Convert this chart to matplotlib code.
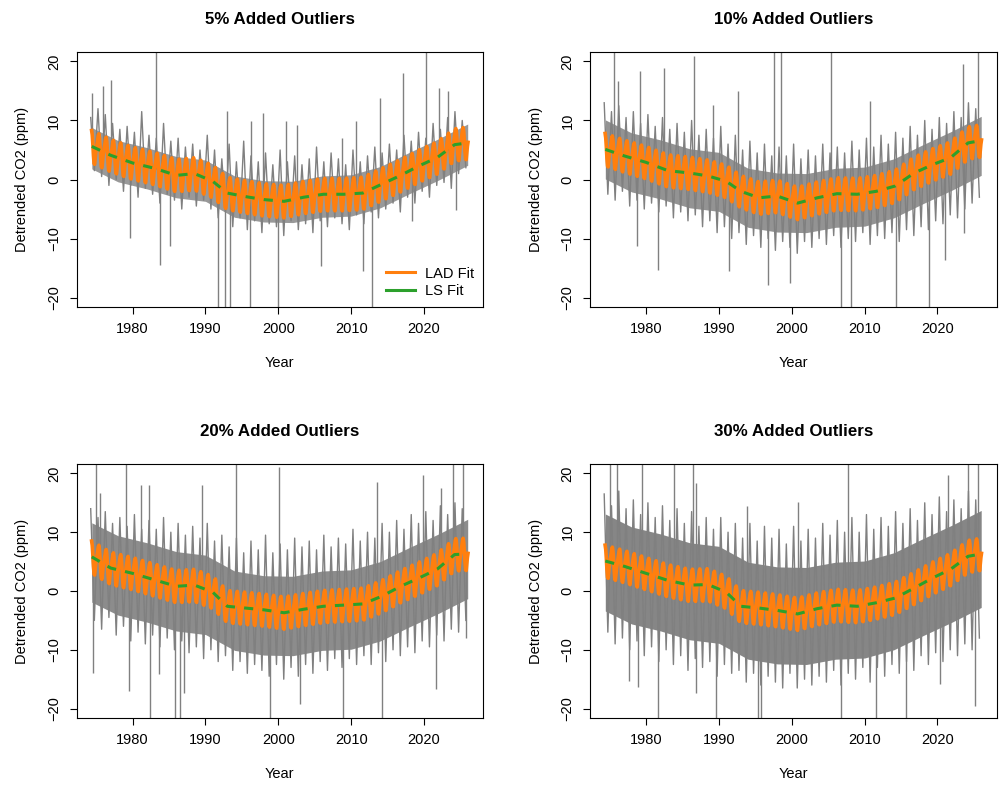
import numpy as np
import matplotlib.pyplot as plt

plt.rcParams['font.family'] = ['Liberation Sans', 'DejaVu Sans']

titles = ["5% Added Outliers", "10% Added Outliers",
          "20% Added Outliers", "30% Added Outliers"]

# LS fit (green dashed trend) at these years
knot_years = [1974.4, 1977, 1980, 1983, 1986, 1988.5, 1991, 1993, 1995.5, 1998,
              2000.8, 2003.5, 2006.2, 2009, 2011.6, 2014.2, 2016.8, 2019.3,
              2021.8, 2024.2, 2026.0]
trend_5 = [5.6, 4.1, 2.8, 1.9, 0.7, 1.0, -0.3, -2.3, -2.9, -3.4, -3.7, -3.0,
           -2.5, -2.5, -2.3, -0.8, 0.7, 2.3, 3.7, 5.9, 6.2]
trend_10 = [5.1, 4.0, 2.9, 1.5, 1.1, 0.6, -0.3, -2.0, -3.1, -2.8, -4.0, -3.1,
            -2.4, -2.5, -2.0, -1.1, 1.1, 2.5, 3.7, 6.2, 6.6]
trend_20 = [5.8, 3.9, 3.0, 1.9, 0.8, 1.0, -0.2, -2.6, -2.9, -3.2, -3.7, -3.1,
            -2.6, -2.4, -2.2, -0.9, 0.8, 2.2, 3.7, 6.2, 6.3]
trend_30 = [5.1, 4.2, 3.0, 1.8, 1.0, 1.1, -0.2, -2.6, -2.9, -3.3, -3.9, -3.0,
            -2.4, -2.6, -2.0, -1.2, 0.5, 2.2, 3.7, 5.9, 6.3]

# seasonal part of the LAD fit (Jan..Dec), ppm
seasonal = [0.1, 0.8, 1.6, 2.4, 2.7, 2.0, 0.5, -1.4, -2.7, -2.8, -1.7, -0.6]

# monthly record: May 1974 .. Jan 2026
start_year, start_month, n_months = 1974, 5, 621

# solid core of the noisy series (gray), upper / lower edge
band_years = [1974.4, 1978, 1982, 1986, 1990, 1994, 1998, 2002, 2006, 2010,
              2014, 2018, 2022, 2026]
upper_5 = [8.8, 6.6, 5.4, 3.9, 3.3, 0.6, -0.2, -0.3, 0.6, 0.8, 2.2, 4.6, 6.9, 9.4]
lower_5 = [1.8, -0.4, -1.6, -3.1, -3.7, -6.4, -7.2, -7.3, -6.4, -6.2, -4.8, -2.4, -0.1, 2.4]
upper_10 = [10.1, 7.9, 6.7, 5.2, 4.6, 1.9, 1.1, 1.0, 1.9, 2.1, 3.5, 5.9, 8.2, 10.7]
lower_10 = [0.1, -2.1, -3.3, -4.8, -5.4, -8.1, -8.9, -9.0, -8.1, -7.9, -6.5, -4.1, -1.8, 0.7]
upper_20 = [11.6, 9.4, 8.2, 6.7, 6.1, 3.4, 2.6, 2.5, 3.4, 3.6, 5.0, 7.4, 9.7, 12.2]
lower_20 = [-1.9, -4.1, -5.3, -6.8, -7.4, -10.1, -10.9, -11.0, -10.1, -9.9, -8.5, -6.1, -3.8, -1.3]
upper_30 = [13.1, 10.9, 9.7, 8.2, 7.6, 4.9, 4.1, 4.0, 4.9, 5.1, 6.5, 8.9, 11.2, 13.7]
lower_30 = [-3.4, -5.6, -6.8, -8.3, -8.9, -11.6, -12.4, -12.5, -11.6, -11.4, -10.0, -7.6, -5.3, -2.8]

# yearly highs / lows of the gray series, 1974.5 .. 2025.5
year_mid = [1974.5 + k for k in range(52)]
high_5 = [10.5, 12.0, 11.0, 9.5, 8.5, 9.0, 8.0, 11.5, 7.5, 7.0,
          9.5, 6.5, 7.0, 5.5, 6.0, 5.0, 7.5, 5.0, 3.5, 6.0,
          3.0, 6.5, 4.0, 3.0, 4.5, 2.5, 5.0, 3.0, 4.0, 2.5,
          3.5, 5.5, 3.0, 4.5, 3.5, 2.5, 5.0, 3.0, 4.0, 5.5,
          4.5, 6.0, 5.0, 7.5, 6.5, 8.0, 7.0, 9.5, 8.5, 10.5,
          11.5, 10.0]
low_5 = [1.5, 0.5, -1.0, 0.0, -2.0, -1.0, -3.0, -1.5, -2.5, -4.0,
         -2.5, -3.5, -5.0, -3.0, -4.5, -3.5, -5.0, -6.5, -5.5, -8.0,
         -6.5, -8.5, -7.0, -9.0, -7.5, -8.0, -9.5, -7.0, -8.5, -7.5,
         -9.0, -7.0, -8.0, -6.5, -7.5, -8.5, -6.0, -7.5, -5.5, -6.5,
         -5.0, -4.0, -5.5, -3.0, -4.0, -2.0, -3.0, -1.0, -0.5, -1.5,
         1.0, 2.0]
high_10 = [13.0, 11.5, 12.5, 10.5, 11.5, 9.5, 11.0, 9.0, 10.5, 8.5,
           9.5, 8.0, 10.0, 7.5, 8.5, 7.0, 9.0, 6.0, 7.5, 5.0,
           6.5, 4.5, 6.0, 4.0, 5.5, 4.0, 6.0, 3.5, 5.0, 4.0,
           6.0, 4.5, 5.5, 4.5, 6.5, 5.0, 7.0, 5.5, 7.5, 6.0,
           8.0, 7.0, 9.0, 7.5, 10.0, 8.5, 10.5, 9.5, 11.5, 10.5,
           13.0, 12.0]
low_10 = [-2.5, -3.5, -2.0, -4.5, -3.5, -5.0, -4.0, -5.5, -4.5, -6.5,
          -5.5, -7.0, -6.0, -8.0, -7.0, -9.0, -8.0, -10.0, -9.0, -11.0,
          -9.5, -11.5, -10.0, -12.0, -10.5, -11.5, -12.5, -10.5, -11.5, -10.0,
          -11.0, -9.5, -11.5, -10.0, -10.5, -9.0, -11.0, -9.5, -10.0, -9.0,
          -10.5, -8.5, -9.5, -8.0, -8.5, -7.0, -7.5, -6.0, -6.5, -5.0,
          -4.0, -3.0]
high_20 = [14.0, 12.5, 13.5, 11.5, 12.5, 11.0, 13.0, 10.5, 12.0, 10.5,
           12.5, 10.0, 11.5, 9.5, 11.0, 9.0, 11.5, 8.5, 9.5, 7.5,
           9.0, 6.5, 8.5, 7.0, 9.5, 6.5, 8.0, 7.0, 9.0, 7.5,
           8.5, 7.0, 9.5, 7.5, 9.0, 8.0, 10.5, 8.5, 10.0, 9.0,
           11.5, 10.0, 12.0, 10.5, 13.0, 11.5, 13.5, 12.0, 14.5, 13.0,
           15.0, 14.0]
low_20 = [-5.0, -6.5, -4.5, -7.5, -6.0, -8.5, -7.0, -9.0, -7.5, -9.5,
          -8.0, -10.0, -8.5, -10.5, -9.5, -11.5, -10.0, -12.0, -11.0, -13.5,
          -12.0, -14.0, -12.5, -13.5, -14.5, -12.5, -15.0, -13.0, -14.5, -12.5,
          -14.0, -12.0, -13.5, -11.5, -13.0, -11.5, -12.5, -11.0, -12.5, -10.5,
          -12.0, -10.0, -11.0, -9.5, -10.5, -8.5, -9.5, -7.5, -8.5, -6.5,
          -7.0, -5.0]
high_30 = [16.5, 14.5, 17.0, 14.0, 15.5, 13.0, 15.0, 12.5, 14.5, 12.0,
           14.0, 11.5, 13.5, 11.0, 12.5, 10.5, 12.5, 10.0, 11.5, 9.0,
           11.5, 8.5, 11.0, 9.0, 10.5, 8.0, 11.0, 8.5, 10.5, 9.0,
           11.5, 9.5, 12.0, 10.0, 12.5, 10.0, 13.0, 10.5, 12.5, 11.0,
           13.5, 11.5, 14.0, 12.0, 15.0, 13.0, 16.0, 13.5, 15.5, 14.0,
           17.0, 15.5]
low_30 = [-7.0, -9.0, -8.0, -10.0, -8.5, -11.0, -9.5, -12.0, -10.0, -12.5,
          -11.0, -13.5, -11.5, -13.0, -12.0, -14.5, -12.5, -14.0, -13.5, -15.5,
          -14.0, -16.0, -14.5, -15.5, -16.5, -14.0, -16.5, -15.0, -16.0, -14.5,
          -15.5, -13.5, -16.0, -14.0, -15.0, -13.0, -15.5, -13.0, -14.5, -12.5,
          -14.0, -12.0, -13.5, -11.0, -12.5, -10.5, -12.0, -10.0, -11.0, -9.0,
          -10.0, -8.0]

# single outlier spikes (year, value); +-25 means off the plot
spike_years_5 = [1983.2, 2020.3, 1977.0, 1976.0, 1974.4, 1983.7, 1979.7, 1985.2,
                 1991.7, 1992.7, 1993.4, 1996.1, 1999.9, 2012.9, 1992.9, 1996.3,
                 1997.9, 2001.1, 2002.5, 2005.8, 2011.6, 2013.9, 2017.1, 2024.4,
                 2022.1, 2023.3, 2018.3, 2008.8, 2010.7]
spike_vals_5 = [25, 25, 16.9, 15.8, 14.7, -14.5, -9.9, -11.3, -25, -25, -25, -25,
                -25, -25, 11.6, 9.9, 11.3, 9.9, 9.3, -14.7, -15.5, 13.8, 18.1,
                -5.1, 15.5, 15.0, -7.1, 7.1, 9.9]
spike_years_10 = [1975.6, 1997.6, 1998.5, 2005.4, 2025.5, 1986.6, 1979.1, 1982.4,
                  1976.1, 2023.5, 2006.8, 2008.1, 2014.3, 2018.8, 1981.7, 1978.7,
                  1991.4, 1996.8, 1999.7, 2021.0, 2023.7, 2010.7, 1992.6, 1989.2]
spike_vals_10 = [25, 25, 25, 25, 25, 20.9, 18.4, 18.9, 16.7, 19.5, -25, -25, -25,
                 -25, -15.3, -11.3, -15.5, -17.8, -17.5, -13.6, -9.0, 13.3, 15.0, 12.7]
spike_years_20 = [1975.0, 1979.1, 1994.2, 2000.1, 2024.0, 2025.4, 1982.4, 1985.8,
                  1986.5, 1998.9, 2008.9, 2014.2, 1974.6, 1979.5, 1983.6, 1987.1,
                  2003.0, 2021.7, 2025.8, 1981.1, 1982.2, 1989.5, 2013.5, 2019.9,
                  2022.4, 1975.5]
spike_vals_20 = [25, 25, 25, 21.1, 25, 25, -25, -25, -25, -25, -25, -25, -13.9,
                 -17.0, -14.2, -17.3, -19.3, -16.7, -8.0, 18.0, 18.1, 18.0, 18.6,
                 19.7, 17.5, 16.6]
spike_years_30 = [1975.0, 1976.0, 1979.5, 1983.8, 1986.4, 2007.7, 2024.2, 2025.5,
                  2021.4, 1981.6, 1989.6, 1995.3, 1995.8, 2006.8, 2011.6, 2015.7,
                  1977.7, 1978.9, 1986.9, 2020.3, 2025.2, 1986.8, 1993.8, 2000.8]
spike_vals_30 = [25, 25, 25, 25, 25, 25, 25, 25, 19.7, -25, -25, -25, -25, -25,
                 -25, -25, -15.3, -16.4, -17.3, -15.9, -19.5, 18.3, 14.4, 15.2]

trends = [trend_5, trend_10, trend_20, trend_30]
uppers = [upper_5, upper_10, upper_20, upper_30]
lowers = [lower_5, lower_10, lower_20, lower_30]
highs = [high_5, high_10, high_20, high_30]
lows = [low_5, low_10, low_20, low_30]
spike_years = [spike_years_5, spike_years_10, spike_years_20, spike_years_30]
spike_vals = [spike_vals_5, spike_vals_10, spike_vals_20, spike_vals_30]

GRAY = "#808080"
ORANGE = "#ff7f0e"
GREEN = "#2ca02c"
core_alpha = [0.8, 0.85, 0.9, 0.95]

fig = plt.figure(figsize=(10.02, 7.95), dpi=100)
W, H = 1002, 795
# axes boxes in pixels: left, top, right, bottom
boxes = [(76.5, 52, 483, 307), (590, 52, 996.5, 307),
         (76.5, 464, 483, 718), (590, 464, 996.5, 718)]

months = np.arange(n_months)
t = start_year + (start_month - 1 + months + 0.5) / 12
season = np.array(seasonal)[(start_month - 1 + months) % 12]

for i, (l, tp, r, b) in enumerate(boxes):
    ax = fig.add_axes([l / W, 1 - b / H, (r - l) / W, (b - tp) / H])

    # observed series: solid core, yearly swings, single outliers
    ax.fill_between(band_years, lowers[i], uppers[i], color=GRAY,
                    alpha=core_alpha[i], linewidth=0)
    zx = np.column_stack([np.array(year_mid) - 0.25,
                          np.array(year_mid) + 0.25]).ravel()
    zy = np.column_stack([highs[i], lows[i]]).ravel()
    ax.plot(zx, zy, color=GRAY, linewidth=1.0)
    base = np.interp(spike_years[i], knot_years, trends[i])
    ax.vlines(spike_years[i], base, spike_vals[i], color=GRAY, linewidth=1)

    # LAD fit = trend + seasonal cycle
    lad = np.interp(t, knot_years, trends[i]) + season
    ax.plot(t, lad, color=ORANGE, linewidth=2.6, label="LAD Fit")
    # LS fit
    ax.plot(knot_years, trends[i], color=GREEN, linewidth=2.2,
            dashes=(3, 3), label="LS Fit")

    ax.set_xlim(1972.3, 2028.1)
    ax.set_ylim(-21.6, 21.6)
    ax.set_xticks([1980, 1990, 2000, 2010, 2020])
    ax.set_yticks([-20, -10, 0, 10, 20])
    ax.tick_params(length=5, width=0.8, labelsize=10.5, pad=6)
    plt.setp(ax.get_yticklabels(), rotation=90, va="center")
    for s in ax.spines.values():
        s.set_linewidth(0.8)
    ax.set_title(titles[i], fontsize=12.2, fontweight="bold", pad=20)
    ax.set_xlabel("Year", fontsize=10.5, labelpad=14)
    ax.set_ylabel("Detrended CO2 (ppm)", fontsize=10.5, labelpad=13)

    if i == 0:
        leg = ax.legend(loc="lower right", frameon=False, fontsize=10.5,
                        handlelength=2.0, borderaxespad=0.2, labelspacing=0.25,
                        handletextpad=0.7)
        for h in leg.get_lines():
            h.set_linestyle("-")
            h.set_linewidth(2.2)

fig.savefig("out.png", dpi=100)
